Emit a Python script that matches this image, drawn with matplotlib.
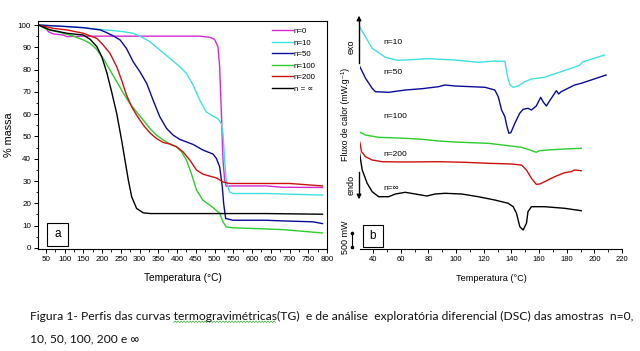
import matplotlib
matplotlib.use("Agg")
import matplotlib.pyplot as plt
from matplotlib.patches import Rectangle
from matplotlib.ticker import MultipleLocator
import numpy as np

plt.rcParams['font.family'] = ['Liberation Sans', 'DejaVu Sans']

# ---------------- TG data (panel a) ----------------
tg_labels = ["n=0", "n=10", "n=50", "n=100", "n=200", "n = ∝"]
tg_colors = ["#d22ad2", "#3fe0e0", "#0a0a9a", "#2ccc2c", "#cc1010", "#000000"]

t_n0 = [30, 44, 57, 70, 97, 106, 150, 195, 460, 487, 500, 509, 513.6, 518, 522.5, 527, 531, 549, 638, 682, 788]
m_n0 = [100, 99.6, 97, 96, 95.5, 94.8, 95, 95, 95, 94.5, 93.6, 90.3, 81.3, 61.8, 39.4, 30.4, 27.7, 27.8, 27.8, 27.2, 27.1]

t_n10 = [30, 106, 150, 195, 230, 257, 283, 301, 327.5, 354, 381, 407, 425, 443, 460.5, 478, 496, 509, 518, 522.5, 527, 531, 540, 549, 638, 788]
m_n10 = [100, 99.3, 98.8, 98, 97.5, 97, 96.3, 95, 92.5, 88.8, 85, 81.3, 78.3, 73, 66.3, 61, 59.1, 58, 55.8, 51.3, 39.4, 30.4, 25.1, 24.4, 24.4, 23.7]

t_n50 = [30, 106, 150, 195, 212, 230, 248, 265, 283, 301, 319, 336, 354, 372, 389.5, 407, 443, 469, 496, 505, 513.6, 520.7, 524.3, 529.6, 549, 638, 682, 762, 788]
m_n50 = [100, 99.3, 98.8, 97.8, 96.6, 95.1, 93.3, 89.5, 83.5, 79, 73.8, 66.3, 58.8, 53.6, 50.6, 48.7, 46.4, 43.9, 42.1, 40.1, 36.4, 27.4, 19.9, 13.2, 12.4, 12.4, 12.1, 11.7, 10.9]

t_n100 = [30, 53, 88, 124, 150, 168, 186, 203, 221, 239, 257, 274, 292, 310, 327.5, 345, 363, 381, 398, 412, 425, 438, 452, 469, 496, 514, 522.5, 531, 549, 638, 682, 788]
m_n100 = [100, 98, 96.7, 95, 93.3, 91.8, 89, 85, 79.8, 74.6, 69.3, 64.8, 61, 57.3, 53.6, 50.6, 48.4, 46.6, 45.4, 43.1, 39.4, 33.4, 25.9, 21.4, 18.1, 15.4, 11.7, 9.4, 9.0, 8.5, 8.2, 6.7]

t_n200 = [30, 70, 106, 150, 186, 203, 221, 239, 252, 265, 279, 292, 310, 327.5, 345, 363, 381, 398, 416, 434, 452, 469, 487, 505, 522.5, 540, 638, 700, 788]
m_n200 = [100, 98.5, 97.8, 96.3, 94, 91, 87.3, 81.3, 75.3, 68.6, 63.3, 59.6, 55.1, 51.6, 49.1, 47.3, 46.6, 45.4, 43.1, 39.4, 34.9, 33.1, 32.2, 31.4, 29.6, 28.9, 28.9, 28.9, 27.8]

t_ninf = [30, 61.5, 106, 150, 168, 186, 199, 212, 225.5, 239, 252, 261, 270, 279, 292, 310, 330, 638, 788]
m_ninf = [100, 97.8, 96.3, 95.5, 93.6, 90.3, 85.8, 79, 70, 60.3, 48.4, 39.4, 30.4, 22.9, 17.7, 15.7, 15.4, 15.4, 15.1]

tg_t = [t_n0, t_n10, t_n50, t_n100, t_n200, t_ninf]
tg_m = [m_n0, m_n10, m_n50, m_n100, m_n200, m_ninf]

# ---------------- DSC data (panel b), stacked signal (arbitrary units) ----------------
dsc_labels = ["n=10", "n=50", "n=100", "n=200", "n=∞"]
dsc_colors = ["#3fe0e0", "#0a0a9a", "#2ccc2c", "#cc1010", "#000000"]

T_d10 = [30.2, 39.3, 48.9, 57.3, 63.3, 80, 99.3, 116, 128, 135.3, 137.2, 139, 141.3, 145, 149.7, 154.5, 164, 173.7, 183.3, 189.3, 191.7, 200, 207.3]
H_d10 = [222.3, 200.7, 191.7, 188.7, 189, 190.3, 189, 186.7, 188, 187.7, 172.3, 164, 161.7, 163, 167.3, 170, 171.7, 176.3, 180.7, 183.7, 187.3, 190.7, 194]

T_d50 = [30.4, 34.5, 39.3, 41.7, 51.3, 63.3, 75.3, 87.3, 92, 99.3, 111.3, 120.9, 128, 130.5, 132.9, 135.3, 136.5, 138.2, 139.6, 142.5, 146, 148.5, 152, 154.5, 158, 161.2, 162.9, 165.3, 166.5, 168.9, 172.5, 174.2, 176, 180.9, 185.7, 190.5, 197.7, 208.5]
H_d50 = [182.3, 170.7, 160.7, 157.3, 156.7, 159, 160.3, 162.3, 164, 163, 162.3, 161.7, 159, 152.3, 139, 132.3, 124, 115.7, 116.3, 125.7, 135.7, 139.7, 140.7, 139, 143, 151.7, 147.3, 143, 145.7, 150.7, 158.3, 155, 157.3, 160.7, 164, 165.7, 169, 174]

T_d100 = [29.7, 34.5, 44, 63.3, 75.3, 87.3, 99.3, 111.3, 123.3, 135.3, 147.3, 152, 158, 160.5, 166.5, 178.5, 190.5]
H_d100 = [117.3, 114, 111.7, 110.7, 109.7, 108, 107, 106.3, 105.7, 103.7, 101.7, 99.7, 96.7, 98.3, 99, 100, 100.7]

T_d200 = [30.4, 31.6, 34.5, 39.3, 46.5, 63.3, 87.3, 106.5, 123.3, 140, 147.3, 150.9, 154.5, 158, 160.5, 164, 171.3, 178.5, 183.3, 185.7, 190.5]
H_d200 = [106.7, 97.3, 92.3, 89, 87.3, 87, 87.3, 86.7, 85.7, 85, 84, 79, 70.7, 64.7, 65, 67.3, 72.3, 76.3, 77.3, 79, 78.3]

T_dinf = [30.2, 32.1, 35.7, 39.3, 44, 51.3, 56.1, 63.3, 70.5, 78.9, 84.9, 92, 104, 116, 128, 137.7, 141.3, 143.7, 146.1, 148.5, 150.9, 152, 154.5, 164, 178.5, 190.5]
H_dinf = [95.7, 79, 65.7, 57.3, 52.3, 52.3, 55, 56.7, 55, 53, 55, 55.7, 55, 52.3, 49, 45.7, 42.3, 35.7, 22.3, 19, 25.7, 37.3, 42.3, 42.3, 40.7, 38.3]

dsc_T = [T_d10, T_d50, T_d100, T_d200, T_dinf]
dsc_H = [H_d10, H_d50, H_d100, H_d200, H_dinf]

W, H = 640, 351
fig = plt.figure(figsize=(W / 100, H / 100), dpi=100)

def fx(px):
    return px / W

def fy(py):
    return 1 - py / H

# ---------------- Panel a ----------------
axa = fig.add_axes([fx(38), fy(249), fx(327) - fx(38), fy(21) - fy(249)])
for t, m, c, lab in zip(tg_t, tg_m, tg_colors, tg_labels):
    axa.plot(t, m, color=c, lw=1.0, label=lab)
axa.set_xlim(29, 800)
axa.set_ylim(-0.5, 101.8)
axa.xaxis.set_major_locator(MultipleLocator(50))
axa.xaxis.set_minor_locator(MultipleLocator(25))
axa.yaxis.set_major_locator(MultipleLocator(10))
axa.yaxis.set_minor_locator(MultipleLocator(5))
axa.tick_params(which='both', direction='out', labelsize=5.8, pad=2)
axa.tick_params(which='major', length=3, width=0.7)
axa.tick_params(which='minor', length=1.8, width=0.6)
for s in axa.spines.values():
    s.set_linewidth(0.8)
axa.set_xlabel("Temperatura (°C)", fontsize=7.3, labelpad=7)
axa.set_ylabel("% massa", fontsize=7.8, labelpad=3)
leg = axa.legend(loc='upper left', bbox_to_anchor=(0.8, 0.985), frameon=False,
                 fontsize=5.7, handlelength=2.6, handletextpad=0.1,
                 labelspacing=0.5, borderaxespad=0)
axa.add_patch(Rectangle((0.03, 0.015), 0.075, 0.1, transform=axa.transAxes,
                        fill=False, lw=0.8, ec='black'))
axa.text(0.0675, 0.065, "a", transform=axa.transAxes, ha='center', va='center', fontsize=8.5)

# ---------------- Panel b ----------------
axb = fig.add_axes([fx(360), fy(249), fx(622) - fx(360), fy(10) - fy(249)])
for T, Hf, c in zip(dsc_T, dsc_H, dsc_colors):
    axb.plot(T, Hf, color=c, lw=1.0)
axb.set_xlim(30.5, 220)
axb.set_ylim(0, 239)
axb.xaxis.set_major_locator(MultipleLocator(20))
axb.xaxis.set_minor_locator(MultipleLocator(10))
axb.set_yticks([])
for sp in ['left', 'right', 'top']:
    axb.spines[sp].set_visible(False)
axb.spines['bottom'].set_linewidth(0.8)
axb.tick_params(which='both', direction='out', labelsize=5.5, pad=2)
axb.tick_params(which='major', length=3, width=0.7)
axb.tick_params(which='minor', length=2, width=0.6)
axb.set_xlabel("Temperatura (°C)", fontsize=6.6, labelpad=8)

dsc_label_y = [42, 73, 117, 154, 188]
for lab, yy in zip(dsc_labels, dsc_label_y):
    fig.text(fx(383), fy(yy), lab, fontsize=6, ha='left', va='center')

# exo / endo arrows
fig.add_artist(plt.Line2D([fx(359), fx(359)], [fy(63), fy(20)], color='black', lw=1.0))
axb.annotate("", xy=(359, H - 13), xytext=(359, H - 22), xycoords='figure pixels',
             textcoords='figure pixels',
             arrowprops=dict(arrowstyle='-|>', color='black', lw=0.8, mutation_scale=7))
fig.add_artist(plt.Line2D([fx(359), fx(359)], [fy(172), fy(194)], color='black', lw=1.0))
axb.annotate("", xy=(359, H - 202), xytext=(359, H - 193), xycoords='figure pixels',
             textcoords='figure pixels',
             arrowprops=dict(arrowstyle='-|>', color='black', lw=0.8, mutation_scale=7))
fig.text(fx(351), fy(47), "exo", rotation=90, fontsize=6.5, ha='center', va='center')
fig.text(fx(351), fy(185), "endo", rotation=90, fontsize=6.5, ha='center', va='center')
fig.text(fx(346), fy(114), "Fluxo de calor (mW.g⁻¹)", rotation=90, fontsize=6.3,
         ha='center', va='center')
fig.text(fx(346), fy(237), "500 mW", rotation=90, fontsize=6.5, ha='center', va='center')
fig.add_artist(plt.Line2D([fx(352), fx(352)], [fy(233), fy(247)], color='black', lw=0.8,
                          marker='o', markersize=1.6))

axb.add_patch(Rectangle((fx(363), fy(247)), fx(383) - fx(363), fy(225) - fy(247),
                        transform=fig.transFigure, fill=False, lw=0.8, ec='black'))
fig.text(fx(373), fy(236), "b", fontsize=8.5, ha='center', va='center')

# ---------------- Caption ----------------
cap_fam = ['Lato', 'DejaVu Sans']
cap_size = 8.7
cap_pre = "Figura 1- Perfis das curvas "
cap_word = "termogravimétricas"
cap1 = cap_pre + cap_word + "(TG)  e de análise  exploratória diferencial (DSC) das amostras  n=0,"
cap2 = "10, 50, 100, 200 e ∞"
x0 = 30
fig.text(fx(x0), fy(316), cap1, fontsize=cap_size, family=cap_fam, ha='left', va='center',
         color='#111111')
fig.text(fx(x0), fy(339), cap2, fontsize=cap_size, family=cap_fam, ha='left', va='center',
         color='#111111')

# wavy spell-check underline under the word
renderer = fig.canvas.get_renderer()
tp = fig.text(0, 0, cap_pre, fontsize=cap_size, family=cap_fam, alpha=0)
tw = fig.text(0, 0, cap_pre + cap_word, fontsize=cap_size, family=cap_fam, alpha=0)
w_pre = tp.get_window_extent(renderer).width
w_all = tw.get_window_extent(renderer).width
tp.remove()
tw.remove()
xs = np.arange(x0 + w_pre, x0 + w_all, 1.5)
ys = np.where(np.arange(len(xs)) % 2 == 0, 322.5, 321.0)
fig.add_artist(plt.Line2D(xs / W, 1 - ys / H, color='#3a9a3a', lw=0.5))

fig.savefig("out.png", dpi=100)
